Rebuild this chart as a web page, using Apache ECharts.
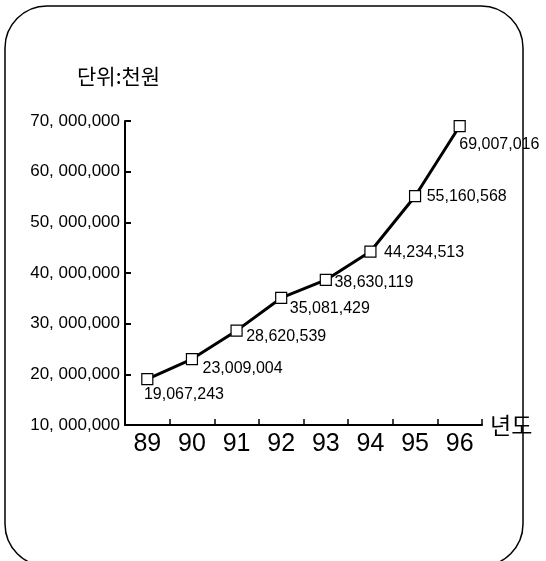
<!DOCTYPE html>
<html>
<head>
<meta charset="utf-8">
<script src="https://cdn.jsdelivr.net/npm/echarts@6/dist/echarts.min.js"></script>
<style>
html,body{margin:0;padding:0;background:#fff;}
#c{width:546px;height:561px;}
</style>
</head>
<body>
<div id="c"></div>
<script>
const years = ['89','90','91','92','93','94','95','96'];
const values = [19067243, 23009004, 28620539, 35081429, 38630119, 44234513, 55160568, 69007016];
const yMin = 10000000, yMax = 70000000, yStep = 10000000;
const unitText = '단위:천원';
const xName = '년도';

// label placement per point (style, not data)
const labelOffsets = [[-9.5, 15.5], [4.5, 9.5], [3.5, 5.5], [2.5, 11], [2.5, 3], [7.5, 1], [5.5, 0], [-6.5, 19]];

function fmtNum(v){ return v.toString().replace(/\B(?=(\d{3})+(?!\d))/g, ','); }

const chart = echarts.init(document.getElementById('c'), null, {renderer:'canvas'});
const seriesData = values.map((v, i) => ({
  value: v,
  label: {
    show: true,
    position: 'right',
    distance: 0,
    align: 'left',
    verticalAlign: 'middle',
    offset: labelOffsets[i],
    formatter: p => fmtNum(p.value)
  }
}));
chart.setOption({
  animation: false,
  backgroundColor: '#fff',
  graphic: [{
    type: 'rect',
    shape: {x: 5, y: 6, width: 518, height: 560, r: 42},
    style: {fill: 'none', stroke: '#000', lineWidth: 1.5},
    z: -1
  }, {
    type: 'text',
    left: 77, top: 66,
    style: {text: unitText, font: '21px "Noto Sans CJK KR"', fill: '#000'}
  }],
  grid: {left: 125, right: 64, top: 121, bottom: 136, containLabel: false},
  xAxis: {
    type: 'category',
    data: years,
    boundaryGap: true,
    name: xName,
    nameLocation: 'end',
    nameGap: 8,
    nameTextStyle: {fontFamily: 'Noto Sans CJK KR', fontSize: 23, color: '#000', verticalAlign: 'middle', padding: [0,0,4,0]},
    axisLine: {lineStyle: {color: '#000', width: 2}},
    axisTick: {show: true, inside: true, length: 6, alignWithLabel: false, lineStyle: {color: '#000', width: 1.5}},
    axisLabel: {color: '#000', fontFamily: 'Liberation Sans', fontSize: 25, margin: 7},
    splitLine: {show: false}
  },
  yAxis: {
    type: 'value',
    min: yMin, max: yMax, interval: yStep,
    axisLine: {show: true, lineStyle: {color: '#000', width: 2}},
    axisTick: {show: true, inside: true, length: 6, lineStyle: {color: '#000', width: 2}},
    axisLabel: {
      color: '#000', fontFamily: 'Liberation Sans', fontSize: 17, margin: 5,
      formatter: v => (v / 1000000) + ', 000,000'
    },
    splitLine: {show: false}
  },
  series: [{
    type: 'line',
    data: seriesData,
    symbol: 'rect',
    symbolSize: 11,
    showAllSymbol: true,
    itemStyle: {color: '#fff', borderColor: '#000', borderWidth: 1.2},
    lineStyle: {color: '#000', width: 3},
    label: {color: '#000', fontFamily: 'Liberation Sans', fontSize: 16},
    z: 3
  }]
});
</script>
</body>
</html>
